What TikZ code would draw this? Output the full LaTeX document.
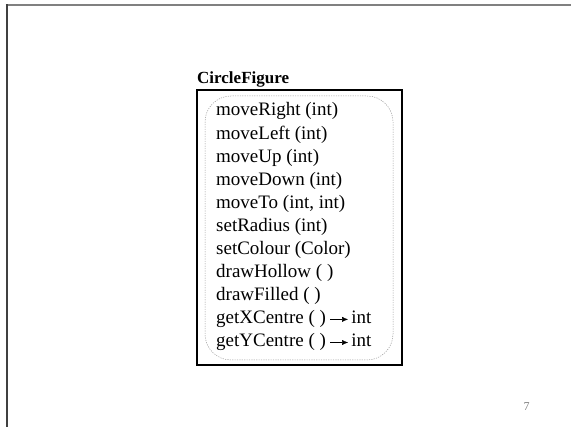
\documentclass[tikz,border=0pt]{standalone}
\usepackage{fontspec}
\setmainfont{Liberation Serif}
\usetikzlibrary{positioning, arrows.meta}

\begin{document}
\begin{tikzpicture}[
    x=1pt, y=1pt,
    node distance=4.7pt and 0pt, % gap between method lines
    method/.style={inner sep=0pt, font=\fontsize{19}{22.7}\selectfont,
      text height=13.5pt, text depth=4.5pt, anchor=base west},
    classname/.style={inner sep=0pt, anchor=base west,
      font=\fontsize{17}{20}\selectfont\bfseries},
    >={Latex[length=6pt, width=5pt]}]

  \useasboundingbox (0,0) rectangle (571,427);

  % slide frame (top and left edges only)
  \draw [gray, line width=2pt] (5.5,421.5) -- (571,421.5);
  \draw [darkgray, line width=2pt] (6.5,422.5) -- (6.5,0);

  % class box with its rounded interface outline
  \draw [line width=1.3pt] (197,62) rectangle (402,337);
  \draw [gray!80, line width=0.5pt, dash pattern=on 1.2pt off 1.2pt,
    rounded corners=26pt] (205,67) rectangle (393,331);

  % class name above the box
  \node (cname) [classname] at (197,343.5) {CircleFigure};

  % methods, one per line
  \node (m1) [method] at (216,311) {moveRight (int)};
  \node (m2) [method, below right=of m1.south west] {moveLeft (int)};
  \node (m3) [method, below right=of m2.south west] {moveUp (int)};
  \node (m4) [method, below right=of m3.south west] {moveDown (int)};
  \node (m5) [method, below right=of m4.south west] {moveTo (int, int)};
  \node (m6) [method, below right=of m5.south west] {setRadius (int)};
  \node (m7) [method, below right=of m6.south west] {setColour (Color)};
  \node (m8) [method, below right=of m7.south west] {drawHollow ( )};
  \node (m9) [method, below right=of m8.south west] {drawFilled ( )};
  \node (m10) [method, below right=of m9.south west] {getXCentre ( )};
  \node (m11) [method, below right=of m10.south west] {getYCentre ( )};

  % return types
  \node (r10) [method, right=25pt of m10] {int};
  \node (r11) [method, right=25pt of m11] {int};
  \draw [->, shorten <=4pt, shorten >=3pt] (m10) -- (r10);
  \draw [->, shorten <=4pt, shorten >=3pt] (m11) -- (r11);

  % page number
  \node (pagenum) [font=\fontsize{12}{14}\selectfont, text=gray] at (526.5,20.5) {7};
\end{tikzpicture}
\end{document}
